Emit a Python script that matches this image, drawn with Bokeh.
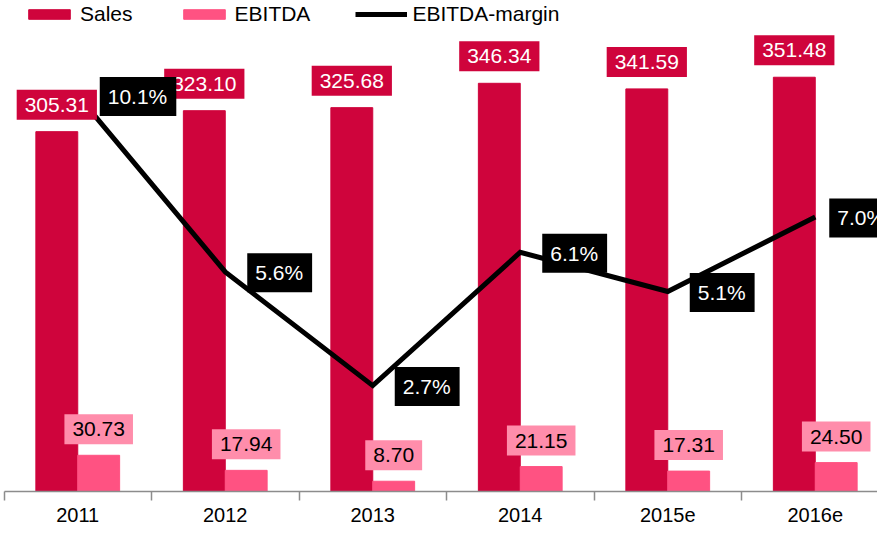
from bokeh.plotting import figure
from bokeh.models import ColumnDataSource, Range1d, FixedTicker, Legend, LegendItem
from bokeh.core.properties import value
from bokeh.embed import file_html
from bokeh.resources import INLINE

# ---- data ----
categories = ["2011", "2012", "2013", "2014", "2015e", "2016e"]
sales = [305.31, 323.10, 325.68, 346.34, 341.59, 351.48]
ebitda = [30.73, 17.94, 8.70, 21.15, 17.31, 24.50]
margin = [10.1, 5.6, 2.7, 6.1, 5.1, 7.0]

# ---- styles ----
FONT = "Liberation Sans"
SALES_COLOR = "#CF043C"
EBITDA_COLOR = "#FF5282"
EBITDA_LABEL_BG = "#FF8DAB"
AXIS_GRAY = "#8C8C8C"

idx = list(range(len(categories)))
bar_w = 0.284
x_sales = [i - bar_w / 2 for i in idx]
x_ebitda = [i + bar_w / 2 for i in idx]
# label offset (px) right of each margin point; last one pulled in to stay on the canvas
margin_lbl_dx = [22, 22, 22, 22, 22, 14]

src = ColumnDataSource(dict(
    x=idx, xs=x_sales, xe=x_ebitda,
    sales=sales, ebitda=ebitda, margin=margin,
    sales_lbl=[f"{v:.2f}" for v in sales],
    ebitda_lbl=[f"{v:.2f}" for v in ebitda],
    margin_lbl=[f"{v:.1f}%" for v in margin],
    mdx=margin_lbl_dx,
))

W, H = 877, 524
cat_px = 147.5
x0 = -0.5 - 3.5 / cat_px
x1 = x0 + W / cat_px
frame_h = 492

p = figure(width=W, height=H, output_backend="svg", toolbar_location=None,
           x_range=Range1d(x0, x1), y_range=Range1d(0, frame_h / 1.181),
           y_axis_location=None, min_border=0, min_border_bottom=H - frame_h,
           outline_line_color=None, background_fill_color="white")
p.xgrid.visible = False
p.ygrid.visible = False
p.extra_y_ranges = {"m": Range1d(0, frame_h / 39.3)}

ax = p.xaxis[0]
ax.ticker = FixedTicker(ticks=idx, minor_ticks=[i - 0.5 for i in range(len(categories) + 1)])
ax.major_label_overrides = {i: c for i, c in zip(idx, categories)}
ax.bounds = (-0.5, x1)
ax.axis_line_color = AXIS_GRAY
ax.axis_line_width = 1.5
ax.major_tick_out = 0
ax.major_tick_in = 0
ax.minor_tick_in = 0
ax.minor_tick_out = 9
ax.minor_tick_line_color = AXIS_GRAY
ax.minor_tick_line_width = 1.5
ax.major_label_text_font = FONT
ax.major_label_text_font_size = "20px"
ax.major_label_text_color = "black"
ax.major_label_standoff = 7

sales_r = p.vbar(x="xs", top="sales", bottom=0, width=bar_w, source=src,
                 fill_color=SALES_COLOR, line_color=SALES_COLOR, line_width=1)
ebitda_r = p.vbar(x="xe", top="ebitda", bottom=0, width=bar_w, source=src,
                  fill_color=EBITDA_COLOR, line_color=EBITDA_COLOR, line_width=1)
line_r = p.line(x="x", y="margin", source=src, y_range_name="m",
                line_color="black", line_width=5, line_join="miter")

p.text(x="xs", y="sales", text="sales_lbl", source=src,
       text_align="center", text_baseline="bottom", y_offset=-12,
       text_color="white", text_font=value(FONT), text_font_size="21px",
       background_fill_color=SALES_COLOR,
       padding=dict(left=8, right=8, top=8, bottom=8))
p.text(x="xe", y="ebitda", text="ebitda_lbl", source=src,
       text_align="center", text_baseline="bottom", y_offset=-11,
       text_color="black", text_font=value(FONT), text_font_size="21px",
       background_fill_color=EBITDA_LABEL_BG,
       padding=dict(left=8, right=8, top=8, bottom=8))
p.text(x="x", y="margin", text="margin_lbl", source=src, y_range_name="m",
       text_align="left", text_baseline="middle", x_offset="mdx", y_offset=1,
       text_color="white", text_font=value(FONT), text_font_size="21px",
       background_fill_color="black",
       padding=dict(left=8, right=9, top=8, bottom=8))

legend = Legend(items=[
    LegendItem(label="Sales", renderers=[sales_r]),
    LegendItem(label="EBITDA", renderers=[ebitda_r]),
    LegendItem(label="EBITDA-margin", renderers=[line_r]),
], orientation="horizontal", location=(23, frame_h - 27),
    glyph_width=52, glyph_height=12, label_standoff=5, spacing=45,
    padding=0, margin=0, border_line_color=None, background_fill_alpha=0,
    label_text_font=FONT, label_text_font_size="21px", label_text_color="black")
p.add_layout(legend)

open("out.html", "w").write(file_html(p, INLINE))
